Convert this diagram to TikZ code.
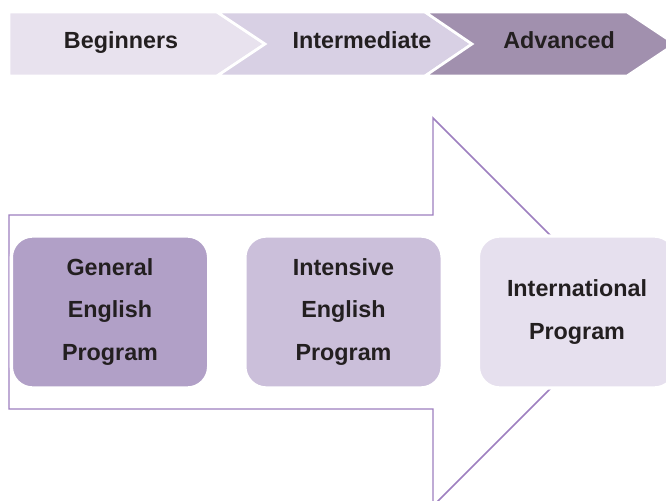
\documentclass[tikz,border=0pt]{standalone}
\usepackage{fontspec}
\setmainfont{Liberation Sans}
\definecolor{chevA}{HTML}{E8E2EE}
\definecolor{chevB}{HTML}{D8D0E4}
\definecolor{chevC}{HTML}{A190AE}
\definecolor{boxA}{HTML}{B1A0C7}
\definecolor{boxB}{HTML}{CBBFDA}
\definecolor{boxC}{HTML}{E6E0EE}
\definecolor{arrowline}{HTML}{9E7FC0}
\definecolor{txt}{HTML}{231F20}
\tikzset{
  chev/.style={draw=white, line width=2pt, line join=miter},
  lbl/.style={text=txt, font=\fontsize{17.5}{32}\selectfont\bfseries, inner sep=0pt, text height=12.5pt, text depth=3.7pt},
  prog/.style={rounded corners=16pt, draw=white, line width=2.5pt, minimum width=148pt, minimum height=114pt,
    text=txt, font=\fontsize{17.5}{32}\selectfont\bfseries, align=center, inner sep=0pt},
  bigarrow/.style={draw=arrowline, line width=1.1pt, line join=miter}
}
\begin{document}
\begin{tikzpicture}[x=0.75pt, y=-0.75pt]
\useasboundingbox (0,0) rectangle (666,500);
\clip (0,0) rectangle (666,500);
\fill[white] (0,0) rectangle (666,500);
% top chevrons
\path[chev, fill=chevA] (9,12) -- (217,12) -- (265,44) -- (217,76) -- (9,76) -- cycle;
\path[chev, fill=chevB] (217,12) -- (425,12) -- (472,44) -- (425,76) -- (217,76) -- (265,44) -- cycle;
\path[chev, fill=chevC] (425,12) -- (627,12) -- (675,44) -- (627,76) -- (425,76) -- (472,44) -- cycle;
\node[lbl] (beg) at (121,43) {Beginners};
\node[lbl] (int) at (362,43) {Intermediate};
\node[lbl] (adv) at (559,43) {Advanced};
% big arrow outline
\draw[bigarrow] (9,215) -- (433,215) -- (433,118) -- (627,312) -- (433,506) -- (433,409) -- (9,409) -- cycle;
% program boxes
\node[prog, fill=boxA] (gep) at (110,312) {General\\English\\Program};
\node[prog, fill=boxB] (iep) at (343.5,312) {Intensive\\English\\Program};
\node[prog, fill=boxC] (ip) at (577,312) {International\\Program};
\end{tikzpicture}
\end{document}
